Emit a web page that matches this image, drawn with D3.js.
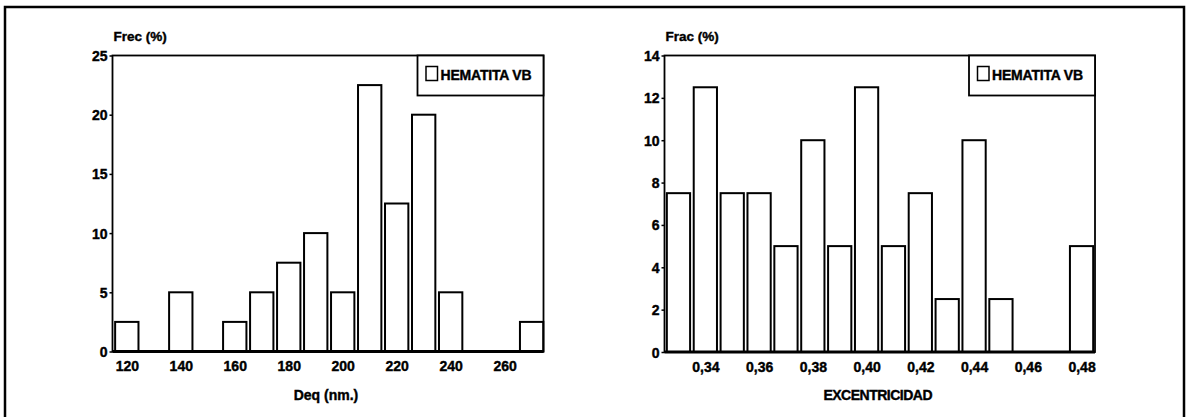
<!DOCTYPE html>
<html>
<head>
<meta charset="utf-8">
<script src="https://cdn.jsdelivr.net/npm/d3@7/dist/d3.min.js"></script>
<style>
  html, body { margin: 0; padding: 0; background: #fff; }
  svg { display: block; }
  text { font-family: "Liberation Sans", Arial, Helvetica, sans-serif; font-weight: bold; fill: #000; stroke: #000; stroke-width: 0.4px; }
</style>
</head>
<body>
<svg id="chart" width="1190" height="417"></svg>
<script>
// Histogram of equivalent diameter (nm)
const deqBins = [120, 130, 140, 150, 160, 170, 180, 190, 200, 210, 220, 230, 240, 250, 260, 270];
const deqFreq = [2.5, 0, 5, 0, 2.5, 5, 7.5, 10, 5, 22.5, 12.5, 20, 5, 0, 0, 2.5];
const deqTicks = [120, 140, 160, 180, 200, 220, 240, 260];
const deqYTicks = [0, 5, 10, 15, 20, 25];

// Histogram of eccentricity
const excBins = [0.33, 0.34, 0.35, 0.36, 0.37, 0.38, 0.39, 0.40, 0.41, 0.42, 0.43, 0.44, 0.45, 0.46, 0.47, 0.48];
const excFreq = [7.5, 12.5, 7.5, 7.5, 5, 10, 5, 12.5, 5, 7.5, 2.5, 10, 2.5, 0, 0, 5];
const excTicks = [0.34, 0.36, 0.38, 0.40, 0.42, 0.44, 0.46, 0.48];
const excYTicks = [0, 2, 4, 6, 8, 10, 12, 14];

const seriesName = "HEMATITA VB";

const svg = d3.select("#chart");
const esLocale = d3.formatLocale({ decimal: ",", thousands: ".", grouping: [3], currency: ["", " €"] });

// outer frame (bottom edge runs past the page)
svg.append("rect")
  .attr("x", 5).attr("y", 7).attr("width", 1179).attr("height", 430)
  .attr("fill", "none").attr("stroke", "#000").attr("stroke-width", 2.5);

function histogram(cfg) {
  const { left, right, top, bottom, xDomain, yMax, bins, freq, xTicks, yTicks, xFormat, yLabel, xLabel, binStep } = cfg;
  const x = d3.scaleLinear().domain(xDomain).range([left, right]);
  const y = d3.scaleLinear().domain([0, yMax]).range([bottom, top]);
  const g = svg.append("g");

  // bars
  const bw = (x(binStep) - x(0)) * 0.865;
  g.selectAll("rect.bar")
    .data(bins.map((b, i) => ({ b, v: freq[i] })).filter(d => d.v > 0))
    .join("rect")
    .attr("class", "bar")
    .attr("x", d => x(d.b) - bw / 2)
    .attr("y", d => y(d.v))
    .attr("width", bw)
    .attr("height", d => y(0) - y(d.v))
    .attr("fill", "#fff")
    .attr("stroke", "#000")
    .attr("stroke-width", 2);

  // plot frame
  g.append("rect")
    .attr("x", left).attr("y", top)
    .attr("width", right - left).attr("height", bottom - top)
    .attr("fill", "none").attr("stroke", "#000").attr("stroke-width", 1.8);
  g.append("line")
    .attr("x1", left).attr("x2", right).attr("y1", bottom).attr("y2", bottom)
    .attr("stroke", "#000").attr("stroke-width", 2.8);

  // y axis
  const ya = g.append("g").attr("transform", `translate(${left},0)`)
    .call(d3.axisLeft(y).tickValues(yTicks).tickSize(3).tickPadding(2).tickFormat(d3.format("d")));
  ya.select(".domain").remove();
  ya.selectAll(".tick line").attr("stroke", "#000").attr("stroke-width", 1.5);
  ya.selectAll(".tick text").attr("font-size", 14).attr("dy", "0.36em")
    .style("font-family", "'Liberation Sans', Arial, sans-serif").style("font-weight", "bold");

  // x axis
  const xa = g.append("g").attr("transform", `translate(0,${bottom})`)
    .call(d3.axisBottom(x).tickValues(xTicks).tickSize(0).tickPadding(10).tickFormat(xFormat));
  xa.select(".domain").remove();
  xa.selectAll(".tick text").attr("font-size", 14)
    .style("font-family", "'Liberation Sans', Arial, sans-serif").style("font-weight", "bold");

  // axis titles
  g.append("text").attr("x", left + 1).attr("y", top - 15)
    .attr("font-size", 13.5).text(yLabel);
  g.append("text").attr("x", (left + right) / 2 - 2).attr("y", bottom + 48)
    .attr("text-anchor", "middle").attr("font-size", 14)
    .attr("letter-spacing", cfg.xLabelSpacing || 0).text(xLabel);

  // legend
  const lw = 126, lh = 40;
  const lg = g.append("g").attr("transform", `translate(${right - lw},${top})`);
  lg.append("rect").attr("width", lw).attr("height", lh)
    .attr("fill", "#fff").attr("stroke", "#000").attr("stroke-width", 1.8);
  lg.append("rect").attr("x", 8.5).attr("y", 11).attr("width", 11.5).attr("height", 14)
    .attr("fill", "#fff").attr("stroke", "#000").attr("stroke-width", 1.5);
  lg.append("text").attr("x", 23).attr("y", 24).attr("font-size", 14)
    .attr("letter-spacing", -0.2).text(seriesName);
}

histogram({
  left: 112.5, right: 543.5, top: 55.5, bottom: 351.5,
  xDomain: [114.7, 274.4], yMax: 25, binStep: 10,
  bins: deqBins, freq: deqFreq, xTicks: deqTicks, yTicks: deqYTicks,
  xFormat: d3.format("d"), yLabel: "Frec (%)", xLabel: "Deq (nm.)"
});

histogram({
  left: 664.5, right: 1095, top: 55.5, bottom: 352,
  xDomain: [0.3248, 0.485], yMax: 14, binStep: 0.01,
  bins: excBins, freq: excFreq, xTicks: excTicks, yTicks: excYTicks,
  xFormat: esLocale.format(".2f"), yLabel: "Frac (%)", xLabel: "EXCENTRICIDAD",
  xLabelSpacing: -0.5
});
</script>
</body>
</html>
